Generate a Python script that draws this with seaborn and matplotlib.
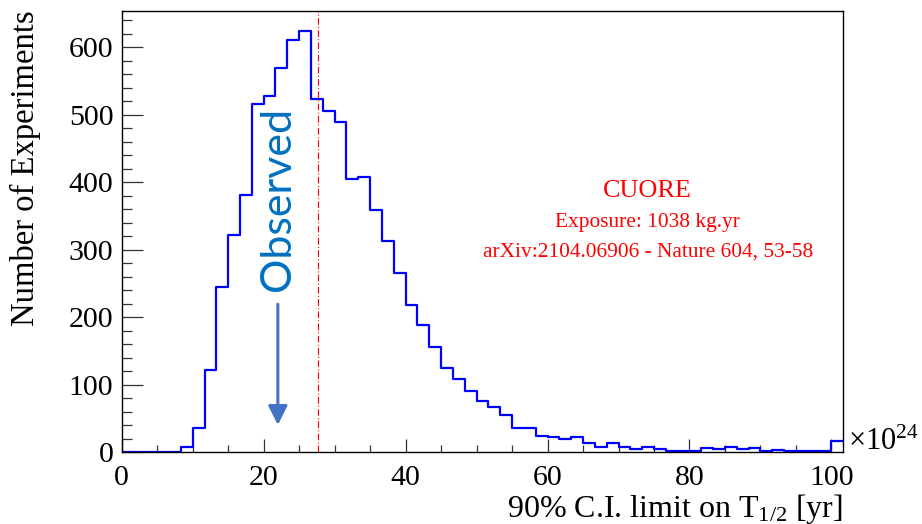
import numpy as np
import pandas as pd
import seaborn as sns
import matplotlib
matplotlib.use("Agg")
import matplotlib.pyplot as plt
from matplotlib.ticker import MultipleLocator

# ---- data ----
bin_width = 5.0 / 3.0
n_bins = 61
counts = [0, 0, 0, 0, 0, 8, 35, 122, 245, 322,
          381, 516, 527, 569, 610, 624, 523, 506, 489, 404,
          407, 358, 313, 265, 218, 188, 155, 124, 108, 91,
          75, 66, 55, 36, 35, 24, 22, 19, 22, 13,
          7, 13, 8, 5, 7, 5, 1, 2, 2, 6,
          5, 7, 5, 6, 2, 3, 1, 2, 1, 1,
          16]
observed_limit = 22.0
median_limit = 27.6
x_ticks = [0, 20, 40, 60, 80, 100]
y_ticks = [0, 100, 200, 300, 400, 500, 600]
info_lines = ["CUORE", "Exposure: 1038 kg.yr", "arXiv:2104.06906 - Nature 604, 53-58"]

edges = np.arange(n_bins + 1) * bin_width
centers = (edges[:-1] + edges[1:]) / 2
df = pd.DataFrame({"limit": centers, "n": counts})

sns.set_style("ticks")
plt.rcParams["font.family"] = ["Liberation Serif", "DejaVu Serif"]
plt.rcParams["mathtext.fontset"] = "custom"
plt.rcParams["mathtext.rm"] = "Liberation Serif"
plt.rcParams["mathtext.default"] = "regular"
plt.rcParams["text.color"] = "black"
plt.rcParams["axes.labelcolor"] = "black"
plt.rcParams["xtick.labelcolor"] = "black"
plt.rcParams["ytick.labelcolor"] = "black"

fig = plt.figure(figsize=(9.22, 5.24), dpi=100)
ax = fig.add_axes([0.1320, 0.1374, 0.7826, 0.8422])

sns.histplot(data=df, x="limit", weights="n", bins=edges.tolist(), element="step",
             fill=False, color="#0000ff", linewidth=1.6, ax=ax)

ax.set_xlim(0, edges[-1])
ax.set_ylim(0, 654)

ax.axvline(median_limit, color="#ff0000", lw=0.8, linestyle=(0, (6, 2, 1, 2)))

# Observed arrow + label
ax.annotate("", xy=(observed_limit, 40), xytext=(observed_limit, 219),
            arrowprops=dict(arrowstyle="-|>,head_length=0.58,head_width=0.29",
                            color="#4472c4", lw=2.2, mutation_scale=20,
                            shrinkA=0, shrinkB=0))
ax.text(observed_limit, 375, "Observed", rotation=90, ha="center", va="center",
        color="#0070c0", fontsize=31, family=["Lato", "DejaVu Sans"])

# info text
ax.text(0.729, 0.591, info_lines[0], transform=ax.transAxes, ha="center",
        va="center", color="#ff0000", fontsize=18.8)
ax.text(0.729, 0.519, info_lines[1], transform=ax.transAxes, ha="center",
        va="center", color="#ff0000", fontsize=15.4)
ax.text(0.729, 0.452, info_lines[2], transform=ax.transAxes, ha="center",
        va="center", color="#ff0000", fontsize=15.4)

# axes styling
ax.set_xticks(x_ticks)
ax.set_yticks(y_ticks)
ax.xaxis.set_minor_locator(MultipleLocator(5))
ax.yaxis.set_minor_locator(MultipleLocator(20))
ax.tick_params(axis="both", which="both", direction="in", color="#333333",
               width=0.9, labelsize=21.5, labelcolor="black", top=False, right=False)
ax.tick_params(axis="x", which="major", length=9.4, pad=9)
ax.tick_params(axis="x", which="minor", length=5)
ax.tick_params(axis="y", which="major", length=15, pad=6)
ax.tick_params(axis="y", which="minor", length=7.2)
for s in ax.spines.values():
    s.set_visible(True)
    s.set_color("black")
    s.set_linewidth(1.0)

ax.set_ylabel("Number of Experiments", fontsize=23.5, loc="top", color="black")
ax.yaxis.set_label_coords(-0.112, 1.0)
ax.set_xlabel("90% C.I. limit on T$_{1/2}$ [yr]", fontsize=23, loc="right", color="black")
ax.xaxis.set_label_coords(0.9995, -0.090)

ax.text(1.006, 0.004, r"$\times$10$^{24}$", transform=ax.transAxes,
        ha="left", va="baseline", fontsize=22, color="black")

fig.savefig("out.png", dpi=100)
